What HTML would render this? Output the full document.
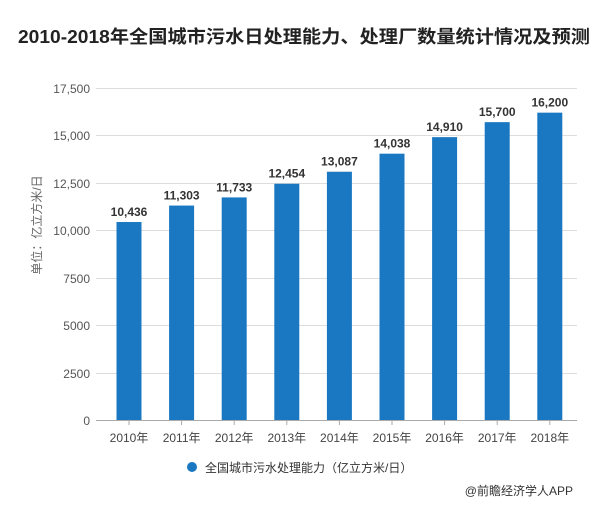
<!DOCTYPE html>
<html><head><meta charset="utf-8"><style>
body{margin:0;background:#fff;width:603px;height:504px;overflow:hidden;font-family:"Liberation Sans","Noto Sans CJK SC",sans-serif}
</style></head><body>
<svg width="603" height="504" xmlns="http://www.w3.org/2000/svg" font-family="Liberation Sans, Noto Sans CJK SC, sans-serif">
<text x="18" y="43" font-size="18" font-weight="bold" fill="#222" textLength="572" lengthAdjust="spacingAndGlyphs">2010-2018年全国城市污水日处理能力、处理厂数量统计情况及预测</text>
<g stroke="#ddd" stroke-width="1">
<line x1="96" x2="577" y1="88.5" y2="88.5"/><line x1="96" x2="577" y1="135.5" y2="135.5"/>
<line x1="96" x2="577" y1="183.5" y2="183.5"/><line x1="96" x2="577" y1="230.5" y2="230.5"/>
<line x1="96" x2="577" y1="278.5" y2="278.5"/><line x1="96" x2="577" y1="325.5" y2="325.5"/>
<line x1="96" x2="577" y1="373.5" y2="373.5"/>
</g>
<line x1="96" x2="577" y1="420.5" y2="420.5" stroke="#aaa"/>
<g font-size="12" fill="#555" text-anchor="end">
<text x="90" y="93">17,500</text><text x="90" y="140">15,000</text><text x="90" y="188">12,500</text>
<text x="90" y="235">10,000</text><text x="90" y="283">7500</text><text x="90" y="330">5000</text>
<text x="90" y="378">2500</text><text x="90" y="425">0</text>
</g>
<text transform="translate(41,225) rotate(-90)" text-anchor="middle" font-size="12" fill="#666">单位：亿立方米/日</text>
<g fill="#1a78c2" id="bars"></g>
<g id="lbl" font-size="12" font-weight="bold" fill="#333" text-anchor="middle"></g>
<g id="xl" font-size="12" fill="#444" text-anchor="middle"></g>
<circle cx="192" cy="467" r="5" fill="#1a78c2"/>
<text x="205" y="472" font-size="12" fill="#333">全国城市污水处理能力（亿立方米/日）</text>
<text x="573" y="495" text-anchor="end" font-size="12" fill="#333">@前瞻经济学人APP</text>
<script>
var v=[10436,11303,11733,12454,13087,14038,14910,15700,16200];
var t=["10,436","11,303","11,733","12,454","13,087","14,038","14,910","15,700","16,200"];
var ns="http://www.w3.org/2000/svg",b=document.getElementById('bars'),l=document.getElementById('lbl'),x=document.getElementById('xl');
for(var i=0;i<9;i++){var cx=129+i*52.6,h=v[i]*332/17500,y=420-h;
var r=document.createElementNS(ns,'rect');r.setAttribute('x',cx-12.5);r.setAttribute('y',y);r.setAttribute('width',25);r.setAttribute('height',h);b.appendChild(r);
var tt=document.createElementNS(ns,'text');tt.setAttribute('x',cx);tt.setAttribute('y',y-6);tt.textContent=t[i];l.appendChild(tt);
var xx=document.createElementNS(ns,'text');xx.setAttribute('x',cx);xx.setAttribute('y',442);xx.textContent=(2010+i)+'年';x.appendChild(xx);
var tk=document.createElementNS(ns,'line');tk.setAttribute('x1',cx);tk.setAttribute('x2',cx);tk.setAttribute('y1',420);tk.setAttribute('y2',425);tk.setAttribute('stroke','#aaa');x.appendChild(tk);}
</script>
</svg>
</body></html>
